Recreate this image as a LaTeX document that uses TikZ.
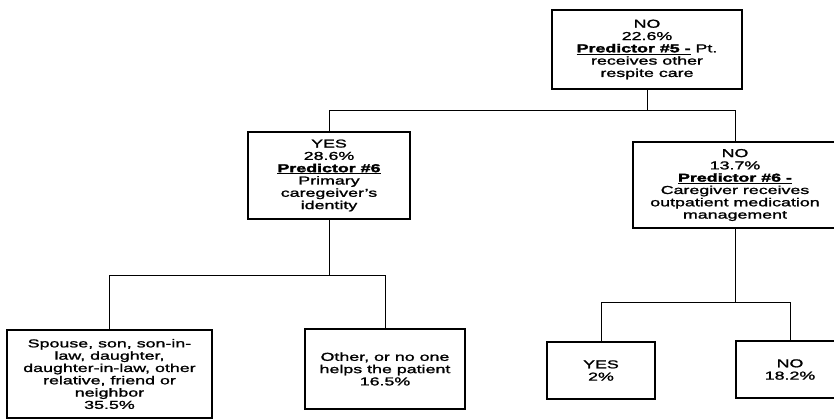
\documentclass[tikz,border=0pt]{standalone}
\usepackage{fontspec}
\setmainfont{Liberation Sans}[FakeStretch=1.55,
  UprightFeatures={FakeBold=1.5},
  BoldFeatures={FakeBold=2.5}]
\begin{document}
\begin{tikzpicture}[x=1pt,y=-1pt,
  every node/.style={font=\fontsize{11.5}{12.3}\selectfont},
  box/.style={draw=black, line width=1.1pt, rectangle, inner sep=0pt, align=center, fill=white},
  link/.style={draw=black, line width=0.9pt}]
  \useasboundingbox (0,0) rectangle (834,419);
  \clip (0,0) rectangle (834,419);

  % level 0
  \node[box, minimum width=190pt, minimum height=79pt] (root) at (647,49.5)
    {NO\\22.6\%\\\underline{\textbf{Predictor \#5 -}} Pt.\\receives other\\respite care};

  % level 1
  \node[box, minimum width=162pt, minimum height=87pt] (yes) at (329,175.5)
    {YES\\28.6\%\\\underline{\textbf{Predictor \#6}}\\Primary\\caregeiver's\\identity};
  \node[box, minimum width=204pt, minimum height=86pt] (no) at (735,185)
    {NO\\13.7\%\\\underline{\textbf{Predictor \#6 -}}\\Caregiver receives\\outpatient medication\\management};

  % level 2
  \node[box, minimum width=205pt, minimum height=88pt] (family) at (109.5,374)
    {Spouse, son, son-in-\\law, daughter,\\daughter-in-law, other\\relative, friend or\\neighbor\\35.5\%};
  \node[box, minimum width=160pt, minimum height=80pt] (other) at (385,369)
    {Other, or no one\\helps the patient\\16.5\%};
  \node[box, minimum width=108pt, minimum height=57pt] (yesb) at (601,370.5)
    {YES\\2\%};
  \node[box, minimum width=108pt, minimum height=57pt] (nob) at (790,369.5)
    {NO\\18.2\%};

  % branch points
  \coordinate (j0) at (647,110);
  \coordinate (j1) at (329,275);
  \coordinate (j2) at (735,302);

  % connectors
  \draw[link] (root.south) -- (j0) -| (yes.north);
  \draw[link] (j0) -| (no.north);
  \draw[link] (yes.south) -- (j1) -| (family.north);
  \draw[link] (j1) -| (other.north);
  \draw[link] (no.south) -- (j2) -| (yesb.north);
  \draw[link] (j2) -| (nob.north);
\end{tikzpicture}
\end{document}
